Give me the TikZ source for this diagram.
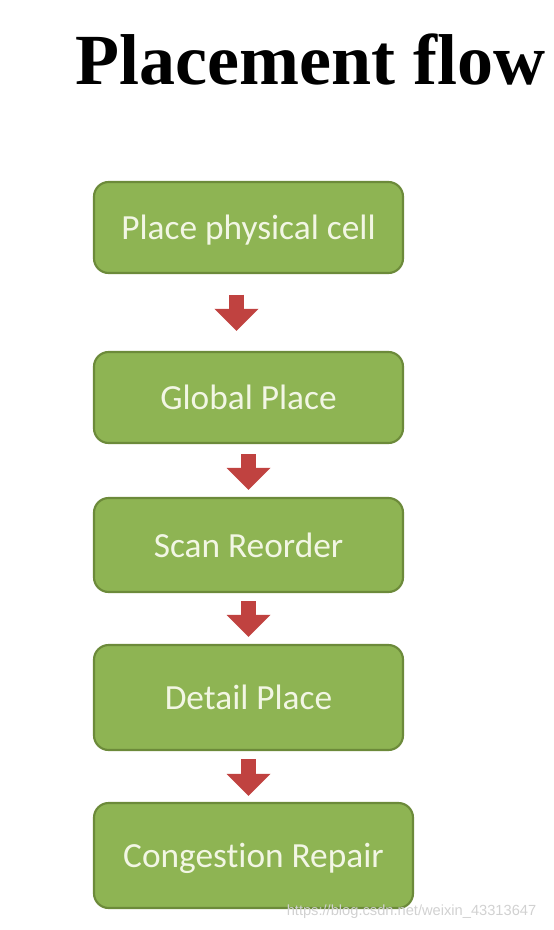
\documentclass[tikz,border=0pt]{standalone}
\usepackage{fontspec}
\setmainfont{Liberation Serif}
\newfontfamily\boxfont[Ligatures={NoCommon}]{Carlito}
\newfontfamily\markfont{Liberation Sans}
\usepackage{tikz}
\usetikzlibrary{arrows.meta,positioning,calc}
\usepackage{xcolor}
\definecolor{boxgreen}{RGB}{142,180,83}
\definecolor{boxedge}{RGB}{108,138,58}
\definecolor{boxtext}{RGB}{242,246,228}
\definecolor{arrowred}{RGB}{192,66,64}

\begin{document}
\begin{tikzpicture}[
x=0.75pt, y=-0.75pt,
stepbox/.style={rectangle, rounded corners=11pt, draw=boxedge, line width=1.6pt, fill=boxgreen, text=boxtext, font=\boxfont\fontsize{26.5}{30}\selectfont, minimum width=231.75pt, inner sep=0pt, text height=18pt, text depth=0pt},
flowarrow/.style={draw=arrowred, line width=11pt, -{Triangle[width=32pt, length=16.5pt]}, shorten <=15.5pt, shorten >=15pt},
]
\useasboundingbox (0,0) rectangle (553,930);
\node[font=\bfseries\fontsize{54}{60}\selectfont, anchor=base] (title) at (310.5,85) {Placement flow};

\node[stepbox, minimum height=68.25pt] (place) at (248.5,227.5) {Place physical cell};
\node[stepbox, minimum height=68.25pt] (global) at (248.5,397.5) {Global Place};
\node[stepbox, minimum height=70.5pt] (scan) at (248.5,545) {Scan Reorder};
\node[stepbox, minimum height=78.75pt] (detail) at (248.5,697.5) {Detail Place};
\node[stepbox, minimum height=78.75pt, minimum width=239.25pt] (repair) at (253.5,855.5) {Congestion Repair};

\draw[flowarrow] ([xshift=-9pt]place.south) -- ([xshift=-9pt]global.north);
\draw[flowarrow, shorten <=7.5pt, shorten >=5.25pt] (global) -- (scan);
\draw[flowarrow, shorten <=6pt, shorten >=5.25pt] (scan) -- (detail);
\draw[flowarrow, shorten <=6pt, shorten >=4.5pt] (detail.south) -- (detail.south |- repair.north);

%watermark
\node[font=\markfont\fontsize{11}{13}\selectfont, text=black!18, anchor=east] (mark) at (541,912) {https://blog.csdn.net/weixin\_43313647};
\end{tikzpicture}
\end{document}
